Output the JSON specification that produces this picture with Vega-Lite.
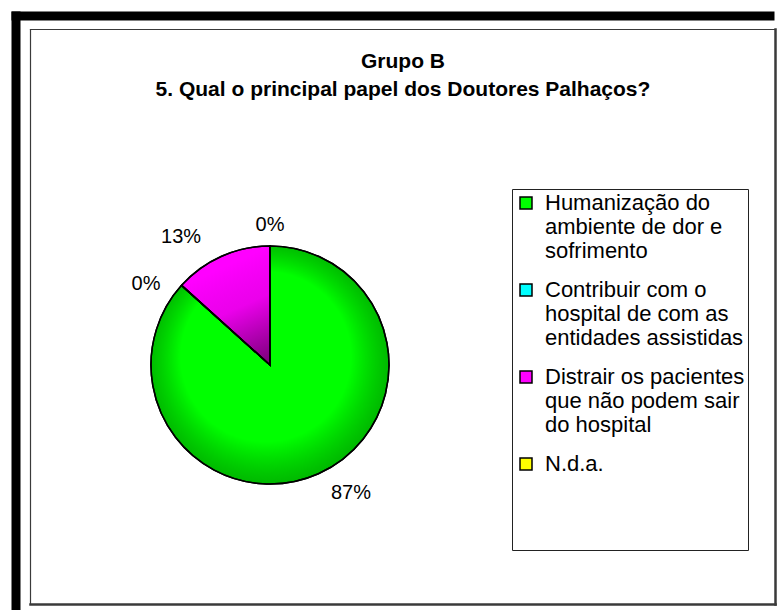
{
  "$schema": "https://vega.github.io/schema/vega-lite/v6.json",
  "width": 480, "height": 470,
  "autosize": {"type": "none"},
  "padding": {"left": 30, "top": 130, "right": 269, "bottom": 10},
  "background": "white",
  "config": {"view": {"stroke": null}, "style": {"guide-label": {"lineHeight": 24}}},
  "data": {"values": [
    {"cat": "Humanização do|ambiente de dor e|sofrimento", "n": 13, "ord": 1, "label": "87%"},
    {"cat": "Contribuir com o|hospital de com as|entidades assistidas", "n": 0, "ord": 2, "label": "0%"},
    {"cat": "Distrair os pacientes|que não podem sair|do hospital", "n": 2, "ord": 3, "label": "13%"},
    {"cat": "N.d.a.| | | ", "n": 0, "ord": 4, "label": "0%"}
  ]},
  "resolve": {"scale": {"x": "independent", "y": "independent"}, "axis": {"x": "independent", "y": "independent"}},
  "layer": [
    {
      "mark": {"type": "point", "opacity": 0},
      "encoding": {
        "x": {"field": "n", "type": "quantitative", "scale": {"range": [-19, 744]},
          "axis": {"orient": "top", "offset": 114.5, "domainColor": "black", "domainWidth": 9, "domainCap": "butt", "labels": false, "ticks": false, "grid": false, "title": null}},
        "y": {"field": "ord", "type": "quantitative", "scale": {"range": [480, -119]},
          "axis": {"orient": "left", "offset": 14.5, "domainColor": "black", "domainWidth": 9, "domainCap": "butt", "labels": false, "ticks": false, "grid": false, "title": null}}
      }
    },
    {
      "mark": {"type": "point", "opacity": 0},
      "encoding": {
        "x": {"field": "n", "type": "quantitative", "scale": {"range": [0, 745]},
          "axis": {"orient": "bottom", "offset": 4, "domainColor": "#3a3a3a", "domainWidth": 2.5, "domainCap": "square", "labels": false, "ticks": false, "grid": false, "title": null}},
        "y": {"field": "ord", "type": "quantitative", "scale": {"range": [474, -101]},
          "axis": {"orient": "left", "offset": 0, "domainColor": "#3a3a3a", "domainWidth": 1.2, "domainCap": "square", "labels": false, "ticks": false, "grid": false, "title": null}}
      }
    },
    {
      "mark": {"type": "point", "opacity": 0},
      "encoding": {
        "x": {"field": "n", "type": "quantitative", "scale": {"range": [0, 745]},
          "axis": {"orient": "top", "offset": 101, "domainColor": "#3a3a3a", "domainWidth": 1.2, "domainCap": "square", "labels": false, "ticks": false, "grid": false, "title": null}},
        "y": {"field": "ord", "type": "quantitative", "scale": {"range": [474, -101]},
          "axis": {"orient": "right", "offset": 265, "domainColor": "#3a3a3a", "domainWidth": 2.5, "domainCap": "square", "labels": false, "ticks": false, "grid": false, "title": null}}
      }
    },
    {
      "mark": {"type": "arc", "stroke": "black", "strokeWidth": 1.5, "outerRadius": 119},
      "encoding": {
        "theta": {"field": "n", "type": "quantitative", "stack": true},
        "order": {"field": "ord"},
        "color": {"field": "cat", "type": "nominal", "sort": {"field": "ord"},
          "scale": {"range": ["#00FF00", "#00FFFF", "#FF00FF", "#FFFF00"]},
          "legend": {"orient": "none", "legendX": 482, "legendY": 59, "title": null,
            "labelExpr": "split(datum.label, '|')",
            "labelFont": "Liberation Sans", "labelFontSize": 22, "labelColor": "black", "labelOffset": 8,
            "labelLimit": 400, "symbolType": "square", "symbolSize": 144, "symbolStrokeColor": "black", "symbolStrokeWidth": 1.5,
            "strokeColor": "#222", "fillColor": "white", "padding": 3, "rowPadding": 17}}
      }
    },
    {
      "mark": {"type": "arc", "stroke": "black", "strokeWidth": 1.5, "outerRadius": 119},
      "encoding": {
        "theta": {"field": "n", "type": "quantitative", "stack": true},
        "order": {"field": "ord"},
        "fill": {"condition": [
          {"test": "datum.ord === 1", "value": {"gradient": "radial", "x1": 0.45, "y1": 0.4, "r1": 0, "x2": 0.5, "y2": 0.5, "r2": 0.55,
            "stops": [{"offset": 0, "color": "rgba(0,0,0,0)"}, {"offset": 0.65, "color": "rgba(0,0,0,0)"}, {"offset": 1, "color": "rgba(0,70,0,0.45)"}]}},
          {"test": "datum.ord === 3", "value": {"gradient": "linear", "x1": 0.7, "y1": 0.1, "x2": 1, "y2": 1,
            "stops": [{"offset": 0, "color": "rgba(0,0,0,0)"}, {"offset": 0.4, "color": "rgba(60,0,60,0.1)"}, {"offset": 1, "color": "rgba(60,0,60,0.7)"}]}}
        ], "value": "transparent"}
      }
    },
    {
      "mark": {"type": "text", "radius": 140, "font": "Liberation Sans", "fontSize": 20, "dx": 24},
      "encoding": {
        "theta": {"field": "n", "type": "quantitative", "stack": true},
        "order": {"field": "ord"},
        "text": {"condition": {"test": "datum.ord === 1", "field": "label", "type": "nominal"}, "value": ""}
      }
    },
    {
      "mark": {"type": "text", "radius": 140, "font": "Liberation Sans", "fontSize": 20, "dx": -20, "dy": 13},
      "encoding": {
        "theta": {"field": "n", "type": "quantitative", "stack": true},
        "order": {"field": "ord"},
        "text": {"condition": {"test": "datum.ord === 2", "field": "label", "type": "nominal"}, "value": ""}
      }
    },
    {
      "mark": {"type": "text", "radius": 140, "font": "Liberation Sans", "fontSize": 20, "dx": -32},
      "encoding": {
        "theta": {"field": "n", "type": "quantitative", "stack": true},
        "order": {"field": "ord"},
        "text": {"condition": {"test": "datum.ord === 3", "field": "label", "type": "nominal"}, "value": ""}
      }
    },
    {
      "mark": {"type": "text", "radius": 140, "font": "Liberation Sans", "fontSize": 20},
      "encoding": {
        "theta": {"field": "n", "type": "quantitative", "stack": true},
        "order": {"field": "ord"},
        "text": {"condition": {"test": "datum.ord === 4", "field": "label", "type": "nominal"}, "value": ""}
      }
    }
  ],
  "title": {"text": ["Grupo B", "5. Qual o principal papel dos Doutores Palhaços?"], "font": "Liberation Sans", "fontSize": 21, "fontWeight": "bold", "lineHeight": 28, "anchor": "middle", "dx": 133, "offset": -92, "color": "black"}
}
